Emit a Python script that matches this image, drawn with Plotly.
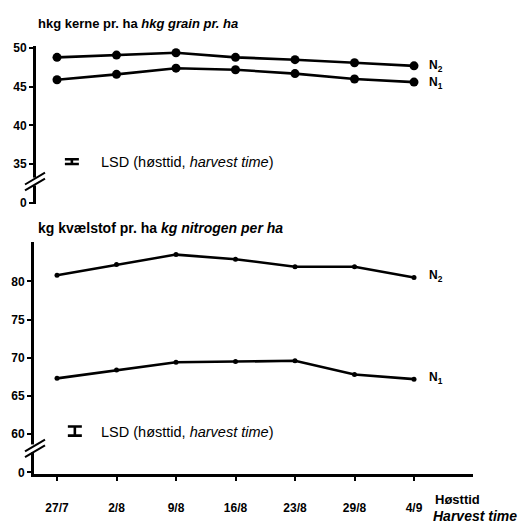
import plotly.graph_objects as go

W, H = 520, 525
dates = ["27/7", "2/8", "9/8", "16/8", "23/8", "29/8", "4/9"]
xpos = list(range(len(dates)))

grain_N2 = [48.8, 49.1, 49.4, 48.8, 48.5, 48.1, 47.7]
grain_N1 = [45.9, 46.6, 47.4, 47.2, 46.7, 46.0, 45.6]
nitro_N2 = [80.8, 82.2, 83.5, 82.9, 81.9, 81.9, 80.5]
nitro_N1 = [67.3, 68.4, 69.4, 69.5, 69.6, 67.8, 67.2]

lsd_grain = 0.6
lsd_nitro = 1.2

grain_ticks = [30, 35, 40, 45, 50]
grain_ticktext = ["0", "35", "40", "45", "50"]
nitro_ticks = [55, 60, 65, 70, 75, 80]
nitro_ticktext = ["0", "60", "65", "70", "75", "80"]

FONT = "Liberation Sans, Arial, sans-serif"

def px(x):
    return x / W

def py(y):
    return 1 - y / H

fig = go.Figure()

line = dict(color="black", width=2.6)
for ys in (grain_N2, grain_N1):
    fig.add_trace(go.Scatter(x=xpos, y=ys, mode="lines+markers", line=line,
                             marker=dict(size=9, color="black"),
                             xaxis="x", yaxis="y", showlegend=False))
for ys in (nitro_N2, nitro_N1):
    fig.add_trace(go.Scatter(x=xpos, y=ys, mode="lines+markers", line=line,
                             marker=dict(size=5, color="black"),
                             xaxis="x", yaxis="y2", showlegend=False))

# LSD bars
fig.add_trace(go.Scatter(x=[0.25], y=[35.3], mode="markers", marker=dict(size=1, color="rgba(0,0,0,0)"),
                         error_y=dict(type="constant", value=lsd_grain / 2, color="black", thickness=2.6, width=7),
                         xaxis="x", yaxis="y", showlegend=False))
fig.add_trace(go.Scatter(x=[0.3], y=[60.4], mode="markers", marker=dict(size=1, color="rgba(0,0,0,0)"),
                         error_y=dict(type="constant", value=lsd_nitro / 2, color="black", thickness=2.6, width=7),
                         xaxis="x", yaxis="y2", showlegend=False))

x0, x1 = 34, 473
xr = [(34 - 57) / 59.5, (473 - 57) / 59.5]

tickfont = dict(family=FONT, size=12, color="black", weight="bold")

fig.update_layout(
    width=W, height=H,
    margin=dict(l=0, r=0, t=0, b=0),
    paper_bgcolor="white", plot_bgcolor="white",
    font=dict(family=FONT, color="black"),
    xaxis=dict(domain=[px(x0), px(x1)], range=xr, anchor="y2",
               tickvals=xpos, ticktext=dates, ticks="outside", ticklen=4, tickwidth=2,
               tickcolor="black", showline=True, linecolor="black", linewidth=3,
               showgrid=False, zeroline=False, tickfont=tickfont, ticklabelstandoff=17),
    yaxis=dict(domain=[py(204), py(42.6)], range=[29.8, 50.3], anchor="free", position=px(x0),
               tickvals=grain_ticks, ticktext=grain_ticktext, ticks="outside", ticklen=4, tickwidth=2,
               tickcolor="black", showline=True, linecolor="black", linewidth=3,
               showgrid=False, zeroline=False, tickfont=tickfont),
    yaxis2=dict(domain=[py(479), py(243)], range=[54.8, 85.1], anchor="x",
                tickvals=nitro_ticks, ticktext=nitro_ticktext, ticks="outside", ticklen=4, tickwidth=2,
                tickcolor="black", showline=True, linecolor="black", linewidth=3,
                showgrid=False, zeroline=False, tickfont=tickfont),
)

# axis breaks (decoration)
def brk(yc):
    fig.add_shape(type="rect", xref="paper", yref="paper",
                  x0=px(28), x1=px(40), y0=py(yc + 4), y1=py(yc - 4),
                  fillcolor="white", line=dict(width=0), layer="above")
    for d in (-3, 3):
        fig.add_shape(type="line", xref="paper", yref="paper",
                      x0=px(25), y0=py(yc + 6 + d), x1=px(45), y1=py(yc - 6 + d),
                      line=dict(color="black", width=2), layer="above")

brk(181)
brk(453)

ann = []
def text(x, y, t, size=12, xanchor="left", weight="normal"):
    ann.append(dict(x=px(x), y=py(y), xref="paper", yref="paper", text=t, showarrow=False,
                    xanchor=xanchor, yanchor="middle",
                    font=dict(family=FONT, size=size, color="black", weight=weight)))

text(36, 20, "hkg kerne pr. ha <i>hkg grain pr. ha</i>", 13, weight="bold")
text(36, 228, "kg kvælstof pr. ha <i>kg nitrogen per ha</i>", 14, weight="bold")
text(99, 161, "LSD (høsttid, <i>harvest time</i>)", 14.5)
text(99, 436, "LSD (høsttid, <i>harvest time</i>)", 14.5)
text(427, 63, "N<sub>2</sub>", 12, weight="bold")
text(427, 81, "N<sub>1</sub>", 12, weight="bold")
text(427, 277, "N<sub>2</sub>", 12, weight="bold")
text(427, 381, "N<sub>1</sub>", 12, weight="bold")
text(433, 505, "Høsttid", 13, weight="bold")
text(519, 522, "<i>Harvest time</i>", 14, xanchor="right", weight="bold")
fig.update_layout(annotations=ann)

fig.write_html("out.html")
